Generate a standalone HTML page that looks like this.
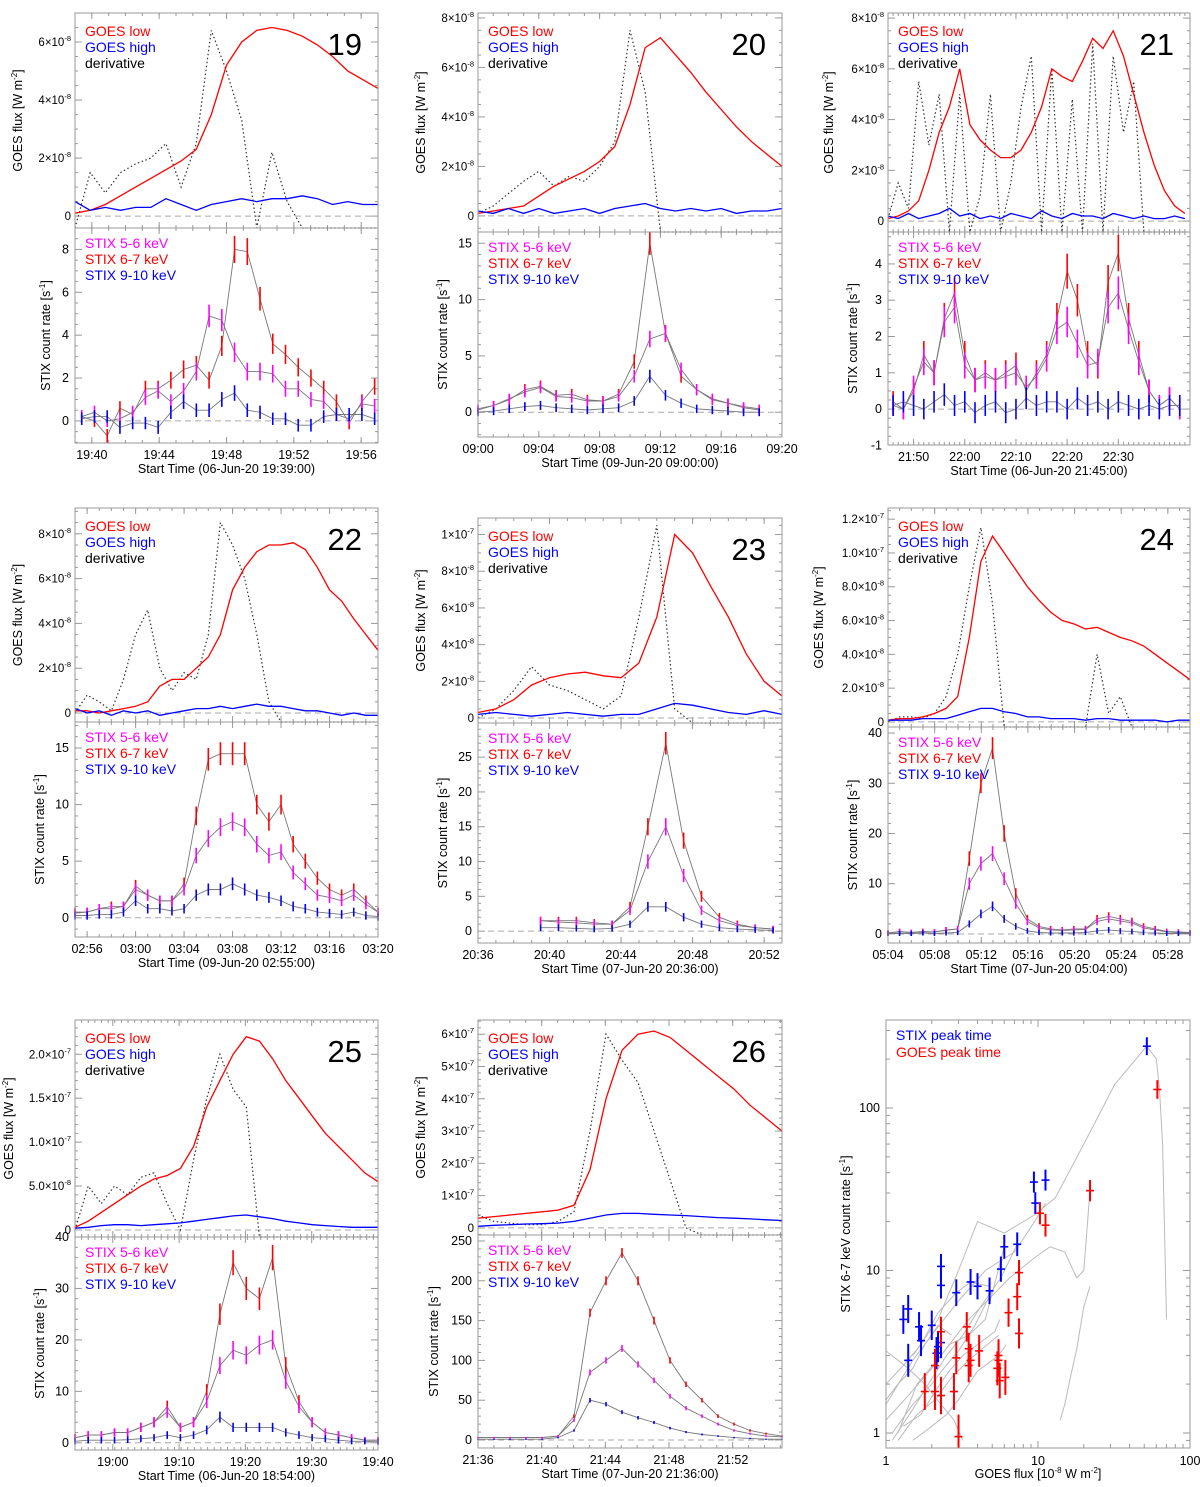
<!DOCTYPE html>
<html><head><meta charset="utf-8"><style>
html,body{margin:0;padding:0;background:#fff;}
svg{display:block;font-family:"Liberation Sans",Arial,sans-serif;}
</style></head><body>
<svg id="fig" width="1200" height="1487" viewBox="0 0 1200 1487" xmlns="http://www.w3.org/2000/svg"></svg>
<script>
// ---------- DATA (GOES in 1e-8 W m^-2, STIX in counts/s) ----------
const p19_low=[0.1,0.2,0.4,0.7,1.0,1.3,1.6,1.9,2.3,3.5,5.2,6.0,6.4,6.5,6.4,6.2,5.9,5.5,5.0,4.7,4.4];
const p19_high=[0.5,0.2,0.3,0.2,0.3,0.3,0.6,0.4,0.2,0.4,0.5,0.6,0.5,0.6,0.6,0.7,0.6,0.4,0.5,0.4,0.4];
const p19_der=[-0.5,1.5,0.8,1.5,1.8,2.0,2.5,1.0,2.5,6.4,5.0,3.3,-1,2.2,0.5,-1,-1,-1,-1,-1,-1];
const p19_s56=[0.2,0.4,0.0,0.1,0.4,1.1,1.4,0.9,1.4,2.3,4.9,4.7,3.2,2.3,2.3,2.2,1.5,1.5,1.0,0.9,0.3,0.1,0.8,0.7];
const p19_s67=[0.2,0.0,-0.7,0.6,0.3,1.5,1.5,1.9,2.4,2.6,1.9,3.5,8.0,7.9,5.7,3.6,3.1,2.5,2.0,1.5,0.9,-0.1,0.9,1.6];
const p19_s910=[0.1,0.2,0.2,-0.3,-0.1,-0.1,-0.3,0.4,0.9,0.5,0.5,1.0,1.3,0.5,0.4,0.1,0.1,-0.2,-0.2,0.2,0.3,0.3,0.3,0.1];

const p20_low=[0.1,0.2,0.3,0.4,0.8,1.2,1.5,1.8,2.2,2.8,4.5,6.8,7.2,6.5,5.8,5.0,4.3,3.6,3.0,2.5,2.0];
const p20_high=[0.2,0.1,0.3,0.1,0.3,0.1,0.2,0.3,0.1,0.3,0.4,0.5,0.3,0.2,0.3,0.2,0.3,0.1,0.2,0.2,0.3];
const p20_der=[0.1,0.4,0.9,1.4,1.8,1.2,1.6,1.4,2.0,3.0,7.5,5.0,-1,-1,-1,-1,-1,-1,-1,-1,-1];
const p20_s56=[0.3,0.6,1.2,1.8,2.2,1.4,1.3,1.0,1.0,1.4,3.2,6.5,7.0,3.8,2.0,1.2,0.8,0.5,0.3];
const p20_s67=[0.2,0.6,1.1,2.0,2.3,1.5,1.6,1.1,1.0,1.6,4.5,15.0,7.0,3.2,2.0,1.1,0.8,0.4,0.2];
const p20_s910=[0.0,0.1,0.3,0.5,0.6,0.4,0.3,0.2,0.3,0.4,1.0,3.2,1.5,0.8,0.3,0.2,0.1,0.0,0.0];

const p21_low=[0.1,0.2,0.4,0.8,2.0,3.5,4.5,6.0,3.8,3.2,2.8,2.5,2.5,2.8,3.5,4.5,6.0,5.7,5.5,6.3,7.2,6.8,7.5,6.5,5.0,3.5,2.2,1.2,0.6,0.3];
const p21_high=[0.2,0.1,0.3,0.1,0.2,0.3,0.5,0.2,0.3,0.1,0.2,0.1,0.3,0.2,0.1,0.4,0.2,0.1,0.3,0.2,0.2,0.1,0.3,0.2,0.1,0.2,0.1,0.1,0.2,0.1];
const p21_der=[0.1,1.5,0.5,5.5,3.0,5.0,-1,5.0,-1,1.0,5.0,-1,1.5,4.5,6.5,-1,6.0,-1,4.8,-1,7.0,-1,6.5,3.5,5.5,-1,-1,-1,-1,-1];
const p21_s56=[0.1,0.0,0.6,1.3,1.0,2.4,2.8,1.2,0.8,0.9,0.8,0.9,1.0,0.6,0.9,1.4,2.2,2.4,1.8,1.2,1.3,2.8,3.2,2.2,1.3,0.5,0.1,0.3,0.0];
const p21_s67=[0.2,0.0,0.5,1.5,1.0,2.5,3.2,1.5,0.8,1.0,0.8,1.0,1.2,0.5,1.0,1.5,2.5,3.8,3.0,1.5,1.2,3.5,4.3,2.5,1.5,0.5,0.1,0.3,0.0];
const p21_s910=[0.1,0.2,0.1,0.0,0.2,0.4,0.1,0.2,-0.1,0.1,0.2,-0.1,0.0,0.3,0.1,0.2,0.2,0.0,0.3,0.1,0.2,0.0,0.2,0.1,0.0,0.1,0.0,0.1,0.1];

const p22_low=[0.1,0.1,0.0,0.1,0.2,0.3,0.5,1.2,1.5,1.5,2.0,2.5,3.5,5.5,6.5,7.2,7.5,7.5,7.6,7.3,6.5,5.5,5.0,4.2,3.5,2.8];
const p22_high=[0.2,0.0,0.1,-0.1,0.1,0.0,0.1,-0.1,0.0,0.1,0.2,0.2,0.3,0.2,0.3,0.4,0.3,0.3,0.2,0.1,0.1,0.0,-0.1,0.0,-0.1,-0.1];
const p22_der=[0.0,0.8,0.5,0.1,1.5,3.5,4.6,2.0,1.0,1.8,1.5,3.5,8.5,7.5,6.0,3.5,0.5,-1,-1,-1,-1,-1,-1,-1,-1,-1];
const p22_s56=[0.4,0.5,0.8,0.8,1.0,2.5,2.0,1.5,1.5,2.5,5.5,7.0,8.0,8.5,8.0,6.5,5.5,5.8,4.0,3.0,2.0,1.8,1.5,2.0,1.2,0.5];
const p22_s67=[0.5,0.5,0.8,1.0,1.0,2.8,2.0,1.5,1.5,3.0,9.0,14.0,14.5,14.5,14.5,10.0,8.5,10.0,6.5,5.0,3.5,2.5,2.0,2.5,1.5,0.5];
const p22_s910=[0.2,0.2,0.3,0.3,0.5,1.5,0.8,0.8,0.6,0.8,2.0,2.5,2.5,3.0,2.5,2.0,1.8,1.5,1.0,0.8,0.5,0.4,0.3,0.5,0.2,0.1];

const p23_low=[0.3,0.5,1.0,1.8,2.2,2.4,2.5,2.3,2.2,3.0,5.5,10.0,9.0,7.2,5.5,3.5,2.0,1.2];
const p23_high=[0.2,0.3,0.2,0.1,0.2,0.3,0.2,0.1,0.2,0.2,0.5,0.8,0.7,0.5,0.3,0.2,0.4,0.2];
const p23_der=[0.0,0.5,1.5,2.8,1.8,1.5,1.0,0.5,1.2,5.5,10.5,0.5,-1,-1,-1,-1,-1,-1];
const p23_s56=[1.5,1.3,1.2,1.0,1.0,3.0,10.0,15.0,8.0,3.0,1.5,0.8,0.5,0.3];
const p23_s67=[1.5,1.5,1.5,1.2,1.0,3.5,15.0,27.0,13.0,5.0,2.0,1.0,0.5,0.3];
const p23_s910=[0.5,0.5,0.4,0.3,0.4,1.0,3.5,3.5,2.0,1.0,0.5,0.3,0.2,0.1];

const p24_low=[0.1,0.2,0.2,0.3,0.5,0.8,1.5,5.0,9.5,11.0,10.0,9.0,8.0,7.2,6.5,6.0,5.8,5.5,5.6,5.3,5.0,4.8,4.5,4.0,3.5,3.0,2.5];
const p24_high=[0.1,0.1,0.1,0.2,0.2,0.2,0.4,0.6,0.8,0.8,0.6,0.5,0.3,0.3,0.2,0.2,0.2,0.1,0.2,0.2,0.1,0.1,0.1,0.1,0.0,0.1,0.1];
const p24_der=[0.0,0.3,0.3,0.2,0.5,1.5,4.0,8.0,11.5,7.0,-1,-1,-1,-1,-1,-1,-1,-1,4.0,0.5,1.5,-1,-1,-1,-1,-1,-1];
const p24_s56=[0.2,0.4,0.3,0.4,0.4,0.7,1,10,14,16,11,6,2.5,1.2,0.8,0.7,0.8,0.9,2.5,3.0,2.6,2.2,1.2,0.8,0.4,0.3,0.2];
const p24_s67=[0.2,0.5,0.3,0.5,0.4,0.8,1,15,30,37,20,8,3,1.5,1,0.8,1,1,3,3.5,3,2.5,1.5,1,0.5,0.4,0.3];
const p24_s910=[0.1,0.1,0.1,0.2,0.1,0.2,0.3,2,4,5.5,3,1.5,0.6,0.3,0.2,0.2,0.2,0.3,0.6,0.8,0.6,0.5,0.3,0.2,0.1,0.1,0.1];

const p25_low=[0.3,1.0,2.0,3.0,4.0,5.0,5.8,6.2,7.0,9.5,14,17,20,22,21.5,19.5,17,15,13,11,9.5,8,6.5,5.5];
const p25_high=[0.2,0.3,0.5,0.6,0.6,0.5,0.6,0.7,0.8,1.0,1.2,1.4,1.6,1.7,1.5,1.3,1.0,0.8,0.6,0.5,0.4,0.3,0.3,0.3];
const p25_der=[0.0,5.0,3.0,5.0,4.0,6.0,6.5,3.0,0,8.0,15.0,20.0,16.0,14.0,-1,-1,-1,-1,-1,-1,-1,-1,-1,-1];
const p25_s56=[1,1.5,1.5,2,2,3,4,6,3,4,8,15,18,17,19,20,12,7,4,2,1.5,1,0.5,0.5];
const p25_s67=[1,1.5,1.5,2,2,3,4,7,3,4,10,25,35,30,28,36,15,8,4,2,1.5,1,0.5,0.5];
const p25_s910=[0.3,0.5,0.5,0.5,0.6,0.8,1,1.5,1,1.5,2.5,5,3,3,3,3,2,1.5,1,0.8,0.5,0.3,0.3,0.2];

const p26_low=[3,3.5,4,4.5,5,5.5,7,18,40,55,60,61,59,55,51,47,43,38,34,30];
const p26_high=[0.5,0.8,1,1.2,1.3,1.5,2,3,4,4.5,4.5,4.2,4,3.8,3.5,3.2,3,2.8,2.5,2.3];
const p26_der=[4,2,1.5,1,1,2,5,30,60,52,45,30,15,0,-3,-3,-3,-3,-3,-3];
const p26_s56=[3,3,3,3,3,5,25,85,100,115,95,75,55,40,30,20,12,8,5,4];
const p26_s67=[3,3,3,3,3,5,30,160,200,235,200,150,100,70,50,30,20,12,8,5];
const p26_s910=[1,1,1,1,1,3,12,50,45,35,28,22,15,10,7,5,3,2,1,1];

// scatter data
const stixPeakGoes=[1.3,1.4,1.4,1.65,1.7,2.0,2.15,2.2,2.3,2.3,2.3,2.9,3.6,4.0,4.8,5.7,6.0,7.3,9.4,9.6,11.2,52];
const stixPeakStix=[5.0,5.8,2.8,4.5,3.7,4.6,3.1,3.4,10.6,8.1,3.6,7.3,8.5,8.0,7.5,10.2,14.0,14.5,35,26,36,240];
const goesPeakGoes=[1.8,2.1,2.1,2.3,2.3,2.8,2.9,3.0,3.4,3.5,3.6,3.5,4.1,5.4,5.5,5.6,5.5,6.1,6.4,7.3,7.5,7.5,10.3,11.2,22,61];
const goesPeakStix=[1.8,1.8,2.6,4.2,1.7,1.8,2.9,0.95,4.5,3.3,2.8,2.6,3.2,2.5,3.0,2.1,2.8,2.2,5.5,6.9,9.7,4.1,22.5,19,31,130];
const curveGoes=[
 [1.5,2.2,3.0,4.0,6.0,9.5,13,20,32,52,60,63,66,70],
 [1.0,1.5,2.2,3.0,4.5,7,9.5,11.2],
 [1.2,1.6,2.3,3.5,5,6.5,9.5,12,15,18,20,22],
 [1.0,1.3,1.7,2.2,2.9,3.6,4.8],
 [1.1,1.5,1.9,2.5,3.2,4.2,5.7,7.3],
 [1.0,1.4,2.0,2.6,3.5,4.5,5.5,6.0],
 [1.2,1.6,2.1,2.7,3.5,4.3,5.5],
 [1.1,1.5,2.0,2.4,3.0,3.8,5.0],
 [14,15,16,17,18,19,20,22],
 [1.3,1.7,2.1,2.6,3.2,4.0,5.2,5.6],
 [1.0,1.2,1.5,1.8,2.2,2.7],
 [1.0,1.4,1.8,2.3,2.8,3.2],
 [1.5,2.0,2.5,3.0,3.5,4.0,5.5,6.2]
];
const curveStix=[
 [3.0,5,10,20,17,22,28,60,140,240,200,130,60,5],
 [1.5,2.8,4.5,6.5,10,13,20,26],
 [1.0,2.0,3.0,5.0,7,9,12,14,13,9,10,31],
 [2.0,2.6,3.5,5.5,7.3,8.5,8.0],
 [0.9,1.4,2.0,3.0,4.0,6.0,9.0,14.5],
 [1.2,1.7,2.5,3.5,4.0,5.0,10.2,14.0],
 [0.9,1.3,1.6,2.2,2.8,3.3,4.0],
 [1.0,1.5,2.0,2.5,3.2,4.5,7.5],
 [1.2,1.5,2.0,2.6,3.3,4.5,6,8],
 [1.1,1.3,1.8,2.4,3.0,3.5,4.2,5.0],
 [1.6,2.0,2.5,3.5,4.6,4.0],
 [3.2,2.5,2.0,1.5,1.2,0.9],
 [0.9,1.1,1.3,1.6,2.0,2.4,3.0,3.5]
];

// ---------- helpers ----------
const svg=document.getElementById('fig');
const NS='http://www.w3.org/2000/svg';
function el(tag,attrs,parent){const e=document.createElementNS(NS,tag);for(const k in attrs)e.setAttribute(k,attrs[k]);(parent||svg).appendChild(e);return e;}
function txt(x,y,s,size,fill,anchor,parent){const t=el('text',{x:x,y:y,'font-size':size,fill:fill||'#000','text-anchor':anchor||'start'},parent);t.textContent=s;return t;}
function sciLabel(x,y,lab,parent){
  const t=el('text',{x:x,y:y,'font-size':11.5,'text-anchor':'end'},parent);
  if(lab.e===undefined){t.textContent=lab.m;return t;}
  const a=el('tspan',{},t);a.textContent=lab.m+'\u00d710';
  const b=el('tspan',{dy:-5,'font-size':7.5},t);b.textContent=lab.e;
  return t;
}
function linmap(v,a,b,p,q){return p+(v-a)/(b-a)*(q-p);}

const panels=[
 {id:19,x0:75,x1:378,gy0:13,gy1:228,sy0:228,sy1:443,tmin:0,tmax:18,gT:[0,18],sT:[0.4,17.8],
  xt:[1,5,9,13,17],xl:['19:40','19:44','19:48','19:52','19:56'],title:'Start Time (06-Jun-20 19:39:00)',
  gmin:-0.41,gmax:7.0,gt:[0,2,4,6],gl:[{m:'0'},{m:'2',e:'-8'},{m:'4',e:'-8'},{m:'6',e:'-8'}],gminor:0.5,
  smin:-1.03,smax:9.0,st:[0,2,4,6,8],sminor:0.5,err:0.2,low:p19_low,high:p19_high,der:p19_der,s56:p19_s56,s67:p19_s67,s910:p19_s910,gto:53,sto:25},
 {id:20,x0:478,x1:782,gy0:13,gy1:232,sy0:232,sy1:437,tmin:0,tmax:20,gT:[0,20],sT:[0,18.5],
  xt:[0,4,8,12,16,20],xl:['09:00','09:04','09:08','09:12','09:16','09:20'],title:'Start Time (09-Jun-20 09:00:00)',
  gmin:-0.65,gmax:8.2,gt:[0,2,4,6,8],gl:[{m:'0'},{m:'2',e:'-8'},{m:'4',e:'-8'},{m:'6',e:'-8'},{m:'8',e:'-8'}],gminor:0.5,
  smin:-2.2,smax:16.0,st:[0,5,10,15],sminor:1,err:0.25,low:p20_low,high:p20_high,der:p20_der,s56:p20_s56,s67:p20_s67,s910:p20_s910,gto:53,sto:31},
 {id:21,x0:888,x1:1190,gy0:13,gy1:232,sy0:232,sy1:445,tmin:0,tmax:59,gT:[0,58],sT:[1,57],
  xt:[5,15,25,35,45],xl:['21:50','22:00','22:10','22:20','22:30'],title:'Start Time (06-Jun-20 21:45:00)',
  gmin:-0.43,gmax:8.2,gt:[0,2,4,6,8],gl:[{m:'0'},{m:'2',e:'-8'},{m:'4',e:'-8'},{m:'6',e:'-8'},{m:'8',e:'-8'}],gminor:0.5,
  smin:-0.99,smax:4.88,st:[-1,0,1,2,3,4],sminor:0.25,err:0.2,low:p21_low,high:p21_high,der:p21_der,s56:p21_s56,s67:p21_s67,s910:p21_s910,gto:55,sto:31},
 {id:22,x0:75,x1:378,gy0:508,gy1:722,sy0:722,sy1:937,tmin:0,tmax:25,gT:[0,25],sT:[0,25],
  xt:[1,5,9,13,17,21,25],xl:['02:56','03:00','03:04','03:08','03:12','03:16','03:20'],title:'Start Time (09-Jun-20 02:55:00)',
  gmin:-0.4,gmax:9.15,gt:[0,2,4,6,8],gl:[{m:'0'},{m:'2',e:'-8'},{m:'4',e:'-8'},{m:'6',e:'-8'},{m:'8',e:'-8'}],gminor:0.5,
  smin:-1.7,smax:17.3,st:[0,5,10,15],sminor:1,err:0.25,low:p22_low,high:p22_high,der:p22_der,s56:p22_s56,s67:p22_s67,s910:p22_s910,gto:53,sto:31},
 {id:23,x0:478,x1:782,gy0:518,gy1:723,sy0:723,sy1:943,tmin:0,tmax:17,gT:[0,17],sT:[3.5,16.5],
  xt:[0,4,8,12,16],xl:['20:36','20:40','20:44','20:48','20:52'],title:'Start Time (07-Jun-20 20:36:00)',
  gmin:-0.27,gmax:10.9,gt:[0,2,4,6,8,10],gl:[{m:'0'},{m:'2',e:'-8'},{m:'4',e:'-8'},{m:'6',e:'-8'},{m:'8',e:'-8'},{m:'1',e:'-7'}],gminor:0.5,
  smin:-1.7,smax:29.9,st:[0,5,10,15,20,25],sminor:1,err:0.3,low:p23_low,high:p23_high,der:p23_der,s56:p23_s56,s67:p23_s67,s910:p23_s910,gto:53,sto:31},
 {id:24,x0:888,x1:1190,gy0:508,gy1:727,sy0:727,sy1:943,tmin:0,tmax:25.9,gT:[0,25.9],sT:[0,25.9],
  xt:[0,4,8,12,16,20,24],xl:['05:04','05:08','05:12','05:16','05:20','05:24','05:28'],title:'Start Time (07-Jun-20 05:04:00)',
  gmin:-0.3,gmax:12.66,gt:[0,2,4,6,8,10,12],gl:[{m:'0'},{m:'2.0',e:'-8'},{m:'4.0',e:'-8'},{m:'6.0',e:'-8'},{m:'8.0',e:'-8'},{m:'1.0',e:'-7'},{m:'1.2',e:'-7'}],gminor:0.5,
  smin:-1.8,smax:41.2,st:[0,10,20,30,40],sminor:2,err:0.35,low:p24_low,high:p24_high,der:p24_der,s56:p24_s56,s67:p24_s67,s910:p24_s910,gto:65,sto:31},
 {id:25,x0:75,x1:378,gy0:1020,gy1:1237,sy0:1237,sy1:1450,tmin:0,tmax:45.7,gT:[0,45.7],sT:[0,45.7],
  xt:[5.7,15.7,25.7,35.7,45.7],xl:['19:00','19:10','19:20','19:30','19:40'],title:'Start Time (06-Jun-20 18:54:00)',
  gmin:-0.8,gmax:23.9,gt:[0,5,10,15,20],gl:[{m:'0'},{m:'5.0',e:'-8'},{m:'1.0',e:'-7'},{m:'1.5',e:'-7'},{m:'2.0',e:'-7'}],gminor:1,
  smin:-1.4,smax:40,st:[0,10,20,30,40],sminor:2,err:0.4,low:p25_low,high:p25_high,der:p25_der,s56:p25_s56,s67:p25_s67,s910:p25_s910,gto:62,sto:31},
 {id:26,x0:478,x1:782,gy0:1020,gy1:1235,sy0:1235,sy1:1448,tmin:0,tmax:19.1,gT:[0,19.1],sT:[0,19.1],
  xt:[0,4,8,12,16],xl:['21:36','21:40','21:44','21:48','21:52'],title:'Start Time (07-Jun-20 21:36:00)',
  gmin:-2.2,gmax:64.4,gt:[0,10,20,30,40,50,60],gl:[{m:'0'},{m:'1',e:'-7'},{m:'2',e:'-7'},{m:'3',e:'-7'},{m:'4',e:'-7'},{m:'5',e:'-7'},{m:'6',e:'-7'}],gminor:2,
  smin:-10,smax:257.5,st:[0,50,100,150,200,250],sminor:10,err:0.4,low:p26_low,high:p26_high,der:p26_der,s56:p26_s56,s67:p26_s67,s910:p26_s910,gto:53,sto:40}
];

function seriesPts(arr,T,P,ymap,lo,hi){
  const n=arr.length;return arr.map((v,i)=>{const t=T[0]+(T[1]-T[0])*i/(n-1);
    let y=ymap(v);y=Math.max(lo,Math.min(hi,y));return [linmap(t,P.tmin,P.tmax,P.x0,P.x1),y];});
}
function axesBox(g,x0,y0,x1,y1,name){
  const r=el('rect',{x:x0,y:y0,width:x1-x0,height:y1-y0,fill:'none',stroke:'#999','stroke-width':1},g);
  
}

panels.forEach(P=>{
  const g=el('g',{});
  
  
  const xm=t=>linmap(t,P.tmin,P.tmax,P.x0,P.x1);
  const gy=v=>linmap(v,P.gmin,P.gmax,P.gy1,P.gy0);
  const sy=v=>linmap(v,P.smin,P.smax,P.sy1,P.sy0);
  const tg=el('g',{stroke:'#999','stroke-width':1},g);
  
  
  for(let t=Math.ceil(P.tmin);t<=P.tmax;t+=1){const x=xm(t);
    [[P.gy0,1],[P.gy1,-1],[P.sy0,1],[P.sy1,-1]].forEach(([yy,d])=>el('line',{x1:x,x2:x,y1:yy,y2:yy+d*3},tg));}
  P.xt.forEach(t=>{const x=xm(t);[[P.gy0,1],[P.gy1,-1],[P.sy0,1],[P.sy1,-1]].forEach(([yy,d])=>el('line',{x1:x,x2:x,y1:yy,y2:yy+d*6},tg));});
  for(let v=Math.ceil(P.gmin/P.gminor)*P.gminor;v<=P.gmax;v+=P.gminor){const y=gy(v);const maj=P.gt.some(q=>Math.abs(q-v)<1e-6);const L=maj?7:3;
    el('line',{x1:P.x0,x2:P.x0+L,y1:y,y2:y},tg);el('line',{x1:P.x1,x2:P.x1-L,y1:y,y2:y},tg);}
  for(let v=Math.ceil(P.smin/P.sminor)*P.sminor;v<=P.smax;v+=P.sminor){const y=sy(v);const maj=P.st.some(q=>Math.abs(q-v)<1e-6);const L=maj?7:3;
    el('line',{x1:P.x0,x2:P.x0+L,y1:y,y2:y},tg);el('line',{x1:P.x1,x2:P.x1-L,y1:y,y2:y},tg);}
  el('line',{x1:P.x0,x2:P.x1,y1:gy(0),y2:gy(0),stroke:'#aaa','stroke-dasharray':'6,4'},g);
  el('line',{x1:P.x0,x2:P.x1,y1:sy(0),y2:sy(0),stroke:'#aaa','stroke-dasharray':'6,4'},g);
  const pl=(pts,col,name,dash,w)=>{const p=el('polyline',{points:pts.map(p=>p[0].toFixed(1)+','+p[1].toFixed(1)).join(' '),fill:'none',stroke:col,'stroke-width':w||1.3},g);
    if(dash)p.setAttribute('stroke-dasharray',dash);
    return p;};
  pl(seriesPts(P.der,P.gT,P,gy,P.gy0,P.gy1),'#333','goes-derivative-line','1.5,2.5',1.2);
  pl(seriesPts(P.low,P.gT,P,gy,P.gy0,P.gy1),'#f00','goes-low-line');
  pl(seriesPts(P.high,P.gT,P,gy,P.gy0,P.gy1),'#00f','goes-high-line');
  [[P.s67,'#f00','stix-6-7kev'],[P.s56,'#f0f','stix-5-6kev'],[P.s910,'#00f','stix-9-10kev']].forEach(([arr,col,name])=>{
    const pts=seriesPts(arr,P.sT,P,sy,P.sy0,P.sy1);
    pl(pts,'#777',name+'-line',null,0.9);
    arr.forEach((v,i)=>{const e=P.err*Math.sqrt(Math.abs(v)+2);
      const x=pts[i][0];const ya=Math.max(P.sy0,Math.min(P.sy1,sy(v+e))),yb=Math.max(P.sy0,Math.min(P.sy1,sy(v-e)));
      const b=el('line',{x1:x,x2:x,y1:ya,y2:yb,stroke:col,'stroke-width':1.6},g);
      
      });
  });
  axesBox(g,P.x0,P.gy0,P.x1,P.gy1,'goes-axes');
  axesBox(g,P.x0,P.sy0,P.x1,P.sy1,'stix-axes');
  P.gt.forEach((v,i)=>{const t=sciLabel(P.x0-4,gy(v)+4,P.gl[i],g);});
  P.st.forEach(v=>{const t=txt(P.x0-6,sy(v)+4,String(v),12.5,'#000','end',g);});
  P.xt.forEach((t,i)=>{const a=txt(xm(t),P.sy1+16,P.xl[i],12.5,'#000','middle',g);});
  const ti=txt((P.x0+P.x1)/2,P.sy1+30,P.title,12.5,'#000','middle',g);
  
  const gyc=(P.gy0+P.gy1)/2,syc=(P.sy0+P.sy1)/2,gx=P.x0-P.gto,sx=P.x0-P.sto;
  const ga=el('text',{x:gx,y:gyc,'font-size':12.5,'text-anchor':'middle',transform:'rotate(-90 '+gx+' '+gyc+')'},g);
  
  ga.appendChild(document.createTextNode('GOES flux [W m'));
  let s=el('tspan',{dy:-5,'font-size':8},ga);s.textContent='-2';
  s=el('tspan',{dy:5},ga);s.textContent=']';
  const sa=el('text',{x:sx,y:syc,'font-size':12.5,'text-anchor':'middle',transform:'rotate(-90 '+sx+' '+syc+')'},g);
  
  sa.appendChild(document.createTextNode('STIX count rate [s'));
  s=el('tspan',{dy:-5,'font-size':8},sa);s.textContent='-1';
  s=el('tspan',{dy:5},sa);s.textContent=']';
  [['GOES low','#f00'],['GOES high','#00f'],['derivative','#000']].forEach(([l,c],i)=>{const t=txt(P.x0+10,P.gy0+23+i*16,l,14,c,'start',g);
    });
  [['STIX 5-6 keV','#f0f'],['STIX 6-7 keV','#f00'],['STIX 9-10 keV','#00f']].forEach(([l,c],i)=>{const t=txt(P.x0+10,P.sy0+20+i*16,l,14,c,'start',g);
    });
  const n=txt(P.x1-16,P.gy0+42,String(P.id),31,'#000','end',g);
  
});

// ---------- scatter panel ----------
(function(){
  const S={x0:886,x1:1190,y0:1020,y1:1448};
  const g=el('g',{});
  
  
  const lx=v=>S.x0+Math.log10(v)*152;
  const ly=v=>1433-Math.log10(v)*162.5;
  const clipY=y=>Math.max(S.y0,Math.min(S.y1,y));
  const tg=el('g',{stroke:'#999','stroke-width':1},g);
  for(let d=0;d<2;d++)for(let k=1;k<10;k++){const x=lx(k*Math.pow(10,d));const L=k===1?7:4;
    el('line',{x1:x,x2:x,y1:S.y1,y2:S.y1-L},tg);el('line',{x1:x,x2:x,y1:S.y0,y2:S.y0+L},tg);}
  for(let d=-1;d<3;d++)for(let k=1;k<10;k++){const v=k*Math.pow(10,d);const y=ly(v);if(y<S.y0||y>S.y1)continue;const L=k===1?7:4;
    el('line',{x1:S.x0,x2:S.x0+L,y1:y,y2:y},tg);el('line',{x1:S.x1,x2:S.x1-L,y1:y,y2:y},tg);}
  curveGoes.forEach((cx,i)=>{const cy=curveStix[i];
    const p=el('polyline',{points:cx.map((v,j)=>lx(v).toFixed(1)+','+clipY(ly(cy[j])).toFixed(1)).join(' '),fill:'none',stroke:'#bbb','stroke-width':1},g);
    });
  const cross=(x,y,col,name)=>{const e=0.12*(1+2/Math.sqrt(y));
    const a=el('line',{x1:lx(x),x2:lx(x),y1:clipY(ly(y*(1+e))),y2:clipY(ly(y/(1+e))),stroke:col,'stroke-width':2},g);
    
    const b=el('line',{x1:lx(x)-4,x2:lx(x)+4,y1:ly(y),y2:ly(y),stroke:col,'stroke-width':1.6},g);
    };
  stixPeakGoes.forEach((x,i)=>cross(x,stixPeakStix[i],'#00f','stix-peak-point'));
  goesPeakGoes.forEach((x,i)=>cross(x,goesPeakStix[i],'#f00','goes-peak-point'));
  axesBox(g,S.x0,S.y0,S.x1,S.y1,'scatter-axes');
  [[1,'1'],[10,'10'],[100,'100']].forEach(([v,l])=>{const t=txt(lx(v),S.y1+17,l,12.5,'#000','middle',g);
    const u=txt(S.x0-6,ly(v)+4,l,12.5,'#000','end',g);});
  const xt=el('text',{x:(S.x0+S.x1)/2,y:S.y1+30,'font-size':12.5,'text-anchor':'middle'},g);
  
  xt.appendChild(document.createTextNode('GOES flux [10'));
  let s=el('tspan',{dy:-5,'font-size':8},xt);s.textContent='-8';
  s=el('tspan',{dy:5},xt);s.textContent=' W m';
  s=el('tspan',{dy:-5,'font-size':8},xt);s.textContent='-2';
  s=el('tspan',{dy:5},xt);s.textContent=']';
  const yc=(S.y0+S.y1)/2,yx=S.x0-36;
  const yt=el('text',{x:yx,y:yc,'font-size':12.5,'text-anchor':'middle',transform:'rotate(-90 '+yx+' '+yc+')'},g);
  
  yt.appendChild(document.createTextNode('STIX 6-7 keV count rate [s'));
  s=el('tspan',{dy:-5,'font-size':8},yt);s.textContent='-1';
  s=el('tspan',{dy:5},yt);s.textContent=']';
  const l1=txt(S.x0+10,S.y0+20,'STIX peak time',14,'#00f','start',g);
  
  const l2=txt(S.x0+10,S.y0+37,'GOES peak time',14,'#f00','start',g);
  
})();
</script>
</body></html>
